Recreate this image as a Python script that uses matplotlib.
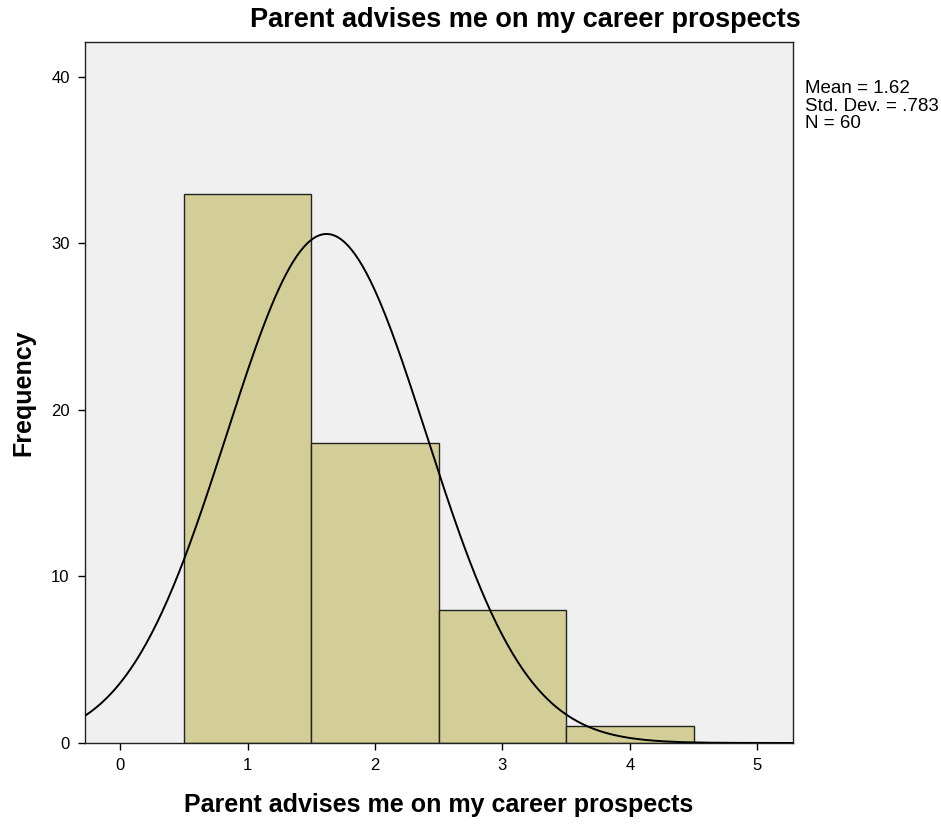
import numpy as np
import matplotlib
matplotlib.use("Agg")
import matplotlib.pyplot as plt

plt.rcParams['font.family'] = ['Liberation Sans', 'DejaVu Sans']

# histogram data (bin centres and counts)
bin_centers = [1, 2, 3, 4]
counts = [33, 18, 8, 1]
mean = 1.62
std = 0.783
n = 60
title = "Parent advises me on my career prospects"

fig = plt.figure(figsize=(9.41, 8.24), dpi=100)
ax = fig.add_axes([85/941, 81/824, 708/941, 701/824])
ax.set_facecolor('#F0F0F0')

ax.bar(bin_centers, counts, width=1.0, color='#D3CE98', edgecolor='#222222', linewidth=1.0, zorder=2)

# normal curve
xs = np.linspace(-0.3, 5.3, 400)
ys = n * 1.0 / (std * np.sqrt(2 * np.pi)) * np.exp(-0.5 * ((xs - mean) / std) ** 2)
ax.plot(xs, ys, color='black', linewidth=1.4, zorder=3)

ax.set_xlim(-0.275, 5.28)
ax.set_ylim(0, 42.1)
ax.set_xticks([0, 1, 2, 3, 4, 5])
ax.set_yticks([0, 10, 20, 30, 40])
ax.tick_params(direction='out', length=5, width=1, labelsize=12, pad=6)
for s in ax.spines.values():
    s.set_linewidth(1.0)
    s.set_color('#222222')

ax.set_xlabel(title, fontsize=18, fontweight='bold', labelpad=14)
ax.set_ylabel("Frequency", fontsize=18, fontweight='bold', labelpad=11)
fig.text(525/941, 1 - 20/824, title, fontsize=19.5, fontweight='bold', ha='center', va='center')

fig.text(805/941, 1 - 80/824, f"Mean = {mean:.2f}\nStd. Dev. = .783\nN = {n}",
         fontsize=13.5, ha='left', va='top', linespacing=1.05)

fig.savefig("out.png", dpi=100)
